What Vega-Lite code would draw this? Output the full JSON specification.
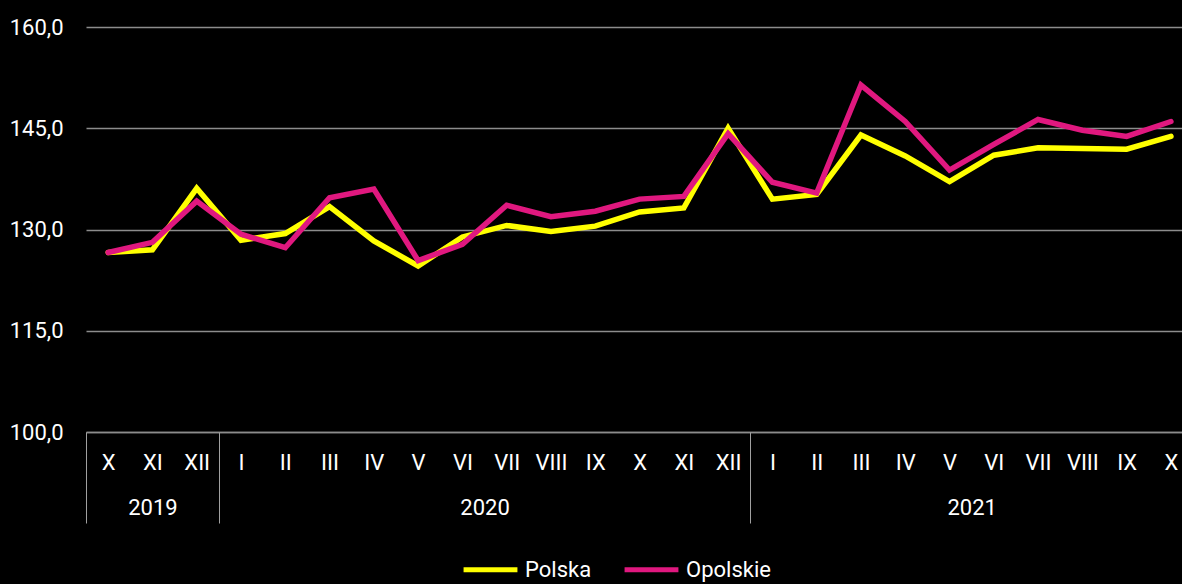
{
  "$schema": "https://vega.github.io/schema/vega-lite/v6.json",
  "width": 1096,
  "height": 405,
  "autosize": {"type": "none"},
  "padding": {"left": 86, "top": 27, "right": 0, "bottom": 152},
  "background": "#000000",
  "config": {
    "view": {"stroke": null},
    "font": "Roboto",
    "axis": {"labelFont": "Roboto", "labelColor": "#ffffff", "labelFontSize": 22},
    "legend": {"labelFont": "Roboto", "labelColor": "#ffffff", "labelFontSize": 22}
  },
  "data": {
    "values": [
      {"t": 0, "month": "X", "year": 2019, "series": "Polska", "value": 126.6},
      {"t": 1, "month": "XI", "year": 2019, "series": "Polska", "value": 127.0},
      {"t": 2, "month": "XII", "year": 2019, "series": "Polska", "value": 136.1},
      {"t": 3, "month": "I", "year": 2020, "series": "Polska", "value": 128.4},
      {"t": 4, "month": "II", "year": 2020, "series": "Polska", "value": 129.4},
      {"t": 5, "month": "III", "year": 2020, "series": "Polska", "value": 133.4},
      {"t": 6, "month": "IV", "year": 2020, "series": "Polska", "value": 128.3},
      {"t": 7, "month": "V", "year": 2020, "series": "Polska", "value": 124.6},
      {"t": 8, "month": "VI", "year": 2020, "series": "Polska", "value": 128.9},
      {"t": 9, "month": "VII", "year": 2020, "series": "Polska", "value": 130.6},
      {"t": 10, "month": "VIII", "year": 2020, "series": "Polska", "value": 129.7},
      {"t": 11, "month": "IX", "year": 2020, "series": "Polska", "value": 130.5},
      {"t": 12, "month": "X", "year": 2020, "series": "Polska", "value": 132.6},
      {"t": 13, "month": "XI", "year": 2020, "series": "Polska", "value": 133.2},
      {"t": 14, "month": "XII", "year": 2020, "series": "Polska", "value": 145.0},
      {"t": 15, "month": "I", "year": 2021, "series": "Polska", "value": 134.5},
      {"t": 16, "month": "II", "year": 2021, "series": "Polska", "value": 135.2},
      {"t": 17, "month": "III", "year": 2021, "series": "Polska", "value": 144.0},
      {"t": 18, "month": "IV", "year": 2021, "series": "Polska", "value": 140.9},
      {"t": 19, "month": "V", "year": 2021, "series": "Polska", "value": 137.1},
      {"t": 20, "month": "VI", "year": 2021, "series": "Polska", "value": 141.0},
      {"t": 21, "month": "VII", "year": 2021, "series": "Polska", "value": 142.1},
      {"t": 22, "month": "VIII", "year": 2021, "series": "Polska", "value": 142.0},
      {"t": 23, "month": "IX", "year": 2021, "series": "Polska", "value": 141.9},
      {"t": 24, "month": "X", "year": 2021, "series": "Polska", "value": 143.8},
      {"t": 0, "month": "X", "year": 2019, "series": "Opolskie", "value": 126.6},
      {"t": 1, "month": "XI", "year": 2019, "series": "Opolskie", "value": 128.1},
      {"t": 2, "month": "XII", "year": 2019, "series": "Opolskie", "value": 134.2},
      {"t": 3, "month": "I", "year": 2020, "series": "Opolskie", "value": 129.3},
      {"t": 4, "month": "II", "year": 2020, "series": "Opolskie", "value": 127.3},
      {"t": 5, "month": "III", "year": 2020, "series": "Opolskie", "value": 134.7},
      {"t": 6, "month": "IV", "year": 2020, "series": "Opolskie", "value": 136.0},
      {"t": 7, "month": "V", "year": 2020, "series": "Opolskie", "value": 125.4},
      {"t": 8, "month": "VI", "year": 2020, "series": "Opolskie", "value": 127.8},
      {"t": 9, "month": "VII", "year": 2020, "series": "Opolskie", "value": 133.6},
      {"t": 10, "month": "VIII", "year": 2020, "series": "Opolskie", "value": 131.9},
      {"t": 11, "month": "IX", "year": 2020, "series": "Opolskie", "value": 132.7},
      {"t": 12, "month": "X", "year": 2020, "series": "Opolskie", "value": 134.5},
      {"t": 13, "month": "XI", "year": 2020, "series": "Opolskie", "value": 134.9},
      {"t": 14, "month": "XII", "year": 2020, "series": "Opolskie", "value": 144.2},
      {"t": 15, "month": "I", "year": 2021, "series": "Opolskie", "value": 137.0},
      {"t": 16, "month": "II", "year": 2021, "series": "Opolskie", "value": 135.4},
      {"t": 17, "month": "III", "year": 2021, "series": "Opolskie", "value": 151.4},
      {"t": 18, "month": "IV", "year": 2021, "series": "Opolskie", "value": 146.0},
      {"t": 19, "month": "V", "year": 2021, "series": "Opolskie", "value": 138.8},
      {"t": 20, "month": "VI", "year": 2021, "series": "Opolskie", "value": 142.6},
      {"t": 21, "month": "VII", "year": 2021, "series": "Opolskie", "value": 146.3},
      {"t": 22, "month": "VIII", "year": 2021, "series": "Opolskie", "value": 144.7},
      {"t": 23, "month": "IX", "year": 2021, "series": "Opolskie", "value": 143.8},
      {"t": 24, "month": "X", "year": 2021, "series": "Opolskie", "value": 146.0}
    ]
  },
  "resolve": {"axis": {"x": "independent"}},
  "layer": [
    {
      "mark": {"type": "line", "strokeWidth": 5.5, "strokeCap": "round"},
      "encoding": {
        "x": {
          "field": "t",
          "type": "quantitative",
          "scale": {"domain": [-0.5, 24.25], "nice": false, "zero": false},
          "axis": {
            "orient": "bottom",
            "title": null,
            "values": [0,1,2,3,4,5,6,7,8,9,10,11,12,13,14,15,16,17,18,19,20,21,22,23,24],
            "labelExpr": "['I','II','III','IV','V','VI','VII','VIII','IX','X','XI','XII'][(datum.value + 9) % 12]",
            "ticks": false,
            "tickSize": 0,
            "grid": false,
            "domain": true,
            "domainColor": "#8c8c8c",
            "domainWidth": 1.5,
            "labelBaseline": "middle",
            "labelPadding": 30,
            "labelFlush": false,
            "labelOverlap": false
          }
        },
        "y": {
          "field": "value",
          "type": "quantitative",
          "scale": {"domain": [100, 160], "nice": false, "zero": false},
          "axis": {
            "title": null,
            "values": [100, 115, 130, 145, 160],
            "labelExpr": "replace(format(datum.value, '.1f'), '.', ',')",
            "domain": false,
            "ticks": false,
            "grid": true,
            "gridColor": "#8c8c8c",
            "gridWidth": 1.5,
            "labelPadding": 23
          }
        },
        "color": {
          "field": "series",
          "type": "nominal",
          "scale": {"domain": ["Polska", "Opolskie"], "range": ["#ffff00", "#e0187f"]},
          "legend": {
            "title": null,
            "orient": "none",
            "direction": "horizontal",
            "legendX": 375,
            "legendY": 513,
            "symbolType": "stroke",
            "symbolSize": 2900,
            "symbolStrokeWidth": 5,
            "labelOffset": 5,
            "columnPadding": 22
          }
        }
      }
    },
    {
      "mark": {"type": "point", "opacity": 0},
      "encoding": {
        "x": {
          "field": "t",
          "type": "quantitative",
          "axis": {
            "orient": "bottom",
            "title": null,
            "values": [-0.5, 1, 2.5, 8.5, 14.5, 19.5],
            "labelExpr": "datum.value == 1 ? '2019' : datum.value == 8.5 ? '2020' : datum.value == 19.5 ? '2021' : ''",
            "domain": false,
            "grid": false,
            "ticks": true,
            "tickSize": 91,
            "tickWidth": 1,
            "tickColor": "#a0a0a0",
            "tickOpacity": {"condition": {"test": "datum.value == 1 || datum.value == 8.5 || datum.value == 19.5", "value": 0}, "value": 1},
            "labelBaseline": "middle",
            "labelPadding": -16,
            "labelFlush": false,
            "labelOverlap": false
          }
        },
        "y": {"field": "value", "type": "quantitative"}
      }
    }
  ]
}
